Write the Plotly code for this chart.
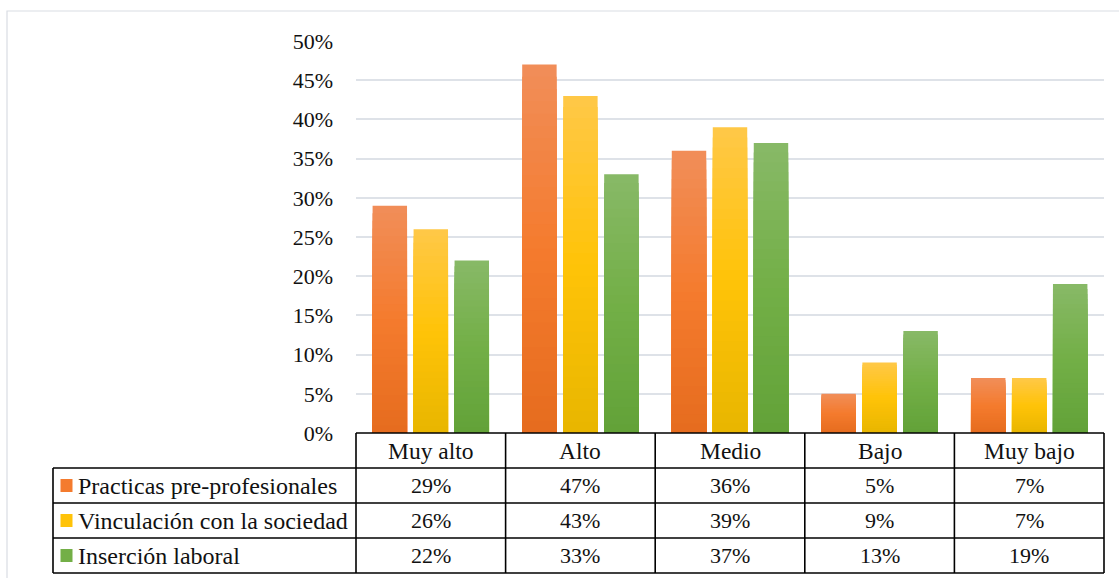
import plotly.graph_objects as go

categories = ["Muy alto", "Alto", "Medio", "Bajo", "Muy bajo"]
series_names = ["Practicas pre-profesionales", "Vinculación con la sociedad", "Inserción laboral"]
practicas = [0.29, 0.47, 0.36, 0.05, 0.07]
vinculacion = [0.26, 0.43, 0.39, 0.09, 0.07]
insercion = [0.22, 0.33, 0.37, 0.13, 0.19]
series_values = [practicas, vinculacion, insercion]
y_ticks = [0, 0.05, 0.10, 0.15, 0.20, 0.25, 0.30, 0.35, 0.40, 0.45, 0.50]

# gradient stops (top, middle, bottom) per series
grad = [
    ((0xF1, 0x8E, 0x59), (0xF4, 0x7B, 0x2E), (0xE6, 0x6C, 0x1E)),
    ((0xFF, 0xC8, 0x48), (0xFF, 0xC3, 0x08), (0xE8, 0xB6, 0x00)),
    ((0x88, 0xB9, 0x67), (0x73, 0xAF, 0x47), (0x62, 0xA2, 0x38)),
]
mid_colors = ["#F47B2E", "#FFC308", "#73AF47"]

def interp(stops, t):
    top, mid, bot = stops
    if t <= 0.5:
        a, b, u = top, mid, t / 0.5
    else:
        a, b, u = mid, bot, (t - 0.5) / 0.5
    return "rgb(%d,%d,%d)" % tuple(round(a[i] + (b[i] - a[i]) * u) for i in range(3))

FONT = "Liberation Serif, Times New Roman, serif"
TXT = "#111111"
W, H = 1119, 578
L, R, T, B = 356, 1104, 41, 433
PW, PH = R - L, B - T

def px(x):
    return (x - L) / PW

def py(y):
    return (B - y) / PH

fig = go.Figure()
N = 30
for s, vals in enumerate(series_values):
    for k in range(N):
        f_top = (N - k) / N
        f_bot = (N - k - 1) / N
        t = 1 - (f_top + f_bot) / 2
        fig.add_trace(go.Bar(
            x=categories,
            y=[v * f_top for v in vals],
            offsetgroup=str(s),
            marker=dict(color=interp(grad[s], t), line=dict(width=0)),
            showlegend=False,
            hoverinfo="skip" if k else "y",
            name=series_names[s],
        ))

fig.update_layout(
    width=W, height=H,
    margin=dict(l=L, r=W - R, t=T, b=H - B),
    barmode="group",
    bargap=0.178,
    bargroupgap=0.16,
    plot_bgcolor="white",
    paper_bgcolor="white",
    font=dict(family=FONT, size=22, color=TXT),
    showlegend=False,
)
fig.update_xaxes(showticklabels=False, showgrid=False, zeroline=False, showline=False,
                 categoryorder="array", categoryarray=categories)
fig.update_yaxes(range=[0, 0.5], tickvals=y_ticks, tickformat=".0%",
                 showgrid=True, gridcolor="#DEE2E8", gridwidth=1.5,
                 zeroline=False, showline=False, ticks="", ticklabelstandoff=22,
                 tickfont=dict(family=FONT, size=22, color=TXT))

shapes = []
# outer chart border
shapes.append(dict(type="rect", xref="paper", yref="paper",
                   x0=px(7), x1=px(1130), y0=py(11), y1=py(595),
                   line=dict(color="#D9DDE3", width=1.2), layer="below"))

row_y = [433, 468, 503, 538, 573]
line_style = dict(color="black", width=1.6)
shapes.append(dict(type="line", xref="paper", yref="paper", x0=px(L), x1=px(R),
                   y0=py(row_y[0]), y1=py(row_y[0]), line=line_style))
for yy in row_y[1:]:
    shapes.append(dict(type="line", xref="paper", yref="paper", x0=px(53), x1=px(R),
                       y0=py(yy), y1=py(yy), line=line_style))
shapes.append(dict(type="line", xref="paper", yref="paper", x0=px(53), x1=px(53),
                   y0=py(row_y[1]), y1=py(row_y[-1]), line=line_style))
for i in range(len(categories) + 1):
    xx = L + PW * i / len(categories)
    shapes.append(dict(type="line", xref="paper", yref="paper", x0=px(xx), x1=px(xx),
                       y0=py(row_y[0]), y1=py(row_y[-1]), line=line_style))

annotations = []
for i, c in enumerate(categories):
    annotations.append(dict(x=c, xref="x", y=py((row_y[0] + row_y[1]) / 2), yref="paper",
                            text=c, showarrow=False, xanchor="center", yanchor="middle",
                            font=dict(family=FONT, size=23.5, color=TXT)))
for s, vals in enumerate(series_values):
    yc = (row_y[s + 1] + row_y[s + 2]) / 2
    shapes.append(dict(type="rect", xref="paper", yref="paper",
                       x0=px(60.5), x1=px(72.5), y0=py(yc - 6.5), y1=py(yc + 6.5),
                       fillcolor=mid_colors[s], line=dict(width=0)))
    annotations.append(dict(x=px(76), xref="paper", y=py(yc), yref="paper",
                            text=series_names[s], showarrow=False, xanchor="left",
                            yanchor="middle", font=dict(family=FONT, size=24, color=TXT)))
    for i, c in enumerate(categories):
        annotations.append(dict(x=c, xref="x", y=py(yc), yref="paper",
                                text=f"{round(vals[i] * 100)}%", showarrow=False,
                                xanchor="center", yanchor="middle",
                                font=dict(family=FONT, size=22, color=TXT)))

fig.update_layout(shapes=shapes, annotations=annotations)
fig.write_html("out.html", config={"displayModeBar": False},
               post_script="document.body.style.margin='0';document.body.style.overflow='hidden';")
